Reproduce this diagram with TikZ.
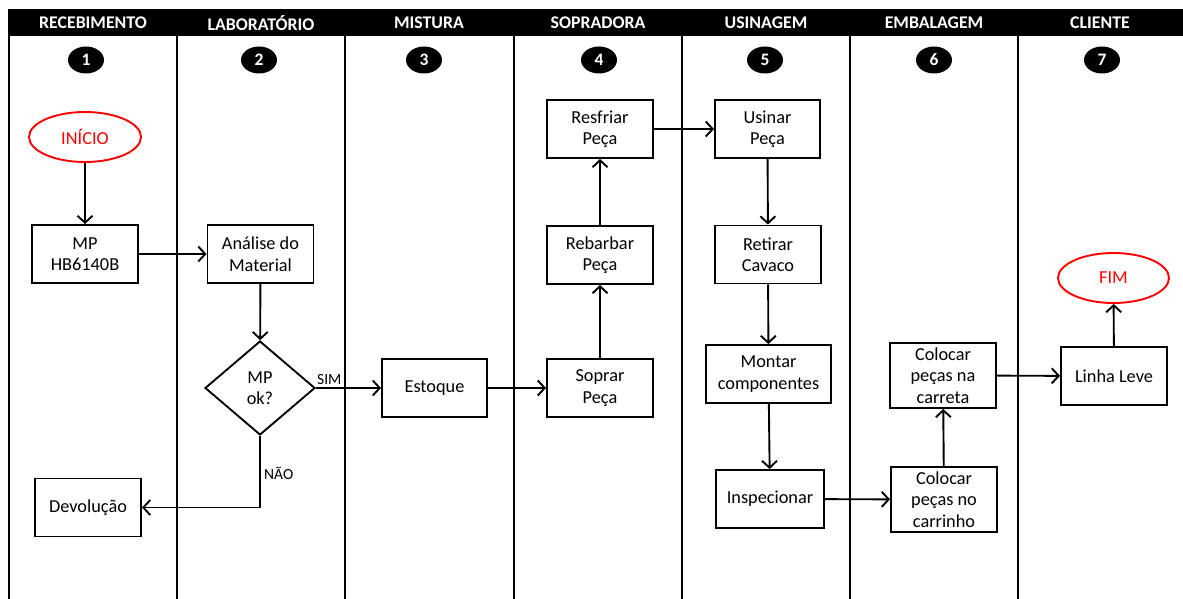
\documentclass[tikz,border=0pt]{standalone}
\usepackage{fontspec}
\setmainfont{Carlito}
\usetikzlibrary{shapes.geometric,arrows.meta}
\begin{document}
\begin{tikzpicture}[x=1pt,y=-1pt,
  box/.style={draw, line width=1.9pt, minimum width=106pt, minimum height=58pt,
    inner sep=0pt, align=center, font=\fontsize{18.3}{21.5}\selectfont},
  term/.style={ellipse, draw=red, text=red, line width=1.9pt, minimum width=112pt,
    minimum height=50pt, inner sep=0pt, font=\fontsize{18.3}{21.5}\selectfont},
  num/.style={ellipse, fill=black, text=white, minimum width=36pt, minimum height=27pt,
    inner sep=0pt, font=\fontsize{17.5}{18}\selectfont\bfseries},
  lanehead/.style={text=white, font=\fontsize{17.8}{18}\selectfont\bfseries},
  lane/.style={line width=1.9pt},
  flow/.style={-{Straight Barb[length=7pt,width=15pt,line width=1.9pt]}, line width=1.9pt},
  tag/.style={font=\fontsize{15.5}{16}\selectfont, inner sep=0pt}]
\useasboundingbox (0,0) rectangle (1183,599);

% header band and lane separators
\fill[black] (8,9) rectangle (1183,36);
\foreach \x in {9,177,345,514,682,850,1018}
  \draw[lane] (\x,35) -- (\x,599);

% lane titles
\node[lanehead] (h1) at (93,23)  {RECEBIMENTO};
\node[lanehead] (h2) at (261,23) {LABORATÓRIO};
\node[lanehead] (h3) at (429,23) {MISTURA};
\node[lanehead] (h4) at (598,23) {SOPRADORA};
\node[lanehead] (h5) at (766,23) {USINAGEM};
\node[lanehead] (h6) at (934,23) {EMBALAGEM};
\node[lanehead] (h7) at (1100,23) {CLIENTE};

% lane numbers
\node[num] (n1) at (86,60)   {1};
\node[num] (n2) at (259,60)  {2};
\node[num] (n3) at (424,60)  {3};
\node[num] (n4) at (599,60)  {4};
\node[num] (n5) at (765,60)  {5};
\node[num] (n6) at (934,60)  {6};
\node[num] (n7) at (1102,60) {7};

% process steps
\node[term] (inicio) at (85,137) {INÍCIO};
\node[box] (mp) at (85,254) {MP\\HB6140B};
\node[box] (analise) at (260.5,254) {Análise do\\Material};
\node[diamond, draw, line width=1.9pt, minimum width=110pt, minimum height=94pt,
  inner sep=0pt, align=center, font=\fontsize{18.3}{21.5}\selectfont] (ok) at (260,388) {MP\\ok?};
\node[box] (devol) at (88,507.5) {Devolução};
\node[box, minimum width=105pt] (estoque) at (434.5,388) {Estoque};
\node[box] (soprar) at (600,388) {Soprar\\Peça};
\node[box] (rebarbar) at (600,255) {Rebarbar\\Peça};
\node[box] (resfriar) at (600,129) {Resfriar\\Peça};
\node[box, minimum width=105pt] (usinar) at (767.5,129) {Usinar\\Peça};
\node[box] (retirar) at (768,254.5) {Retirar\\Cavaco};
\node[box, minimum width=125pt] (montar) at (768.5,374) {Montar\\componentes};
\node[box, minimum width=108pt] (inspec) at (770,499) {Inspecionar};
\node[box, minimum height=65pt] (carrinho) at (944,499.5) {Colocar\\peças no\\carrinho};
\node[box, minimum height=65pt] (carreta) at (943,375.5) {Colocar\\peças na\\carreta};
\node[box] (linha) at (1114,376) {Linha Leve};
\node[term, minimum width=111pt] (fim) at (1113.5,278) {FIM};

% connectors
\draw[flow] (inicio) -- (mp);
\draw[flow] (mp) -- (analise);
\draw[flow] (analise) -- (ok);
\draw[flow] (ok.east) -- (estoque.west);
\coordinate (nao) at (260,507.5);
\draw[flow] (ok.south) -- (nao) -- (devol.east);
\draw[flow] (estoque) -- (soprar);
\draw[flow] (soprar) -- (rebarbar);
\draw[flow] (rebarbar) -- (resfriar);
\draw[flow] (resfriar) -- (usinar);
\draw[flow] (usinar) -- (retirar);
\draw[flow] (retirar) -- (montar);
\draw[flow] (montar) -- (inspec);
\draw[flow] (inspec) -- (carrinho);
\draw[flow] (carrinho) -- (carreta);
\draw[flow] (carreta) -- (linha);
\draw[flow] (linha) -- (fim);

% decision labels
\node[tag, anchor=south west] (sim) at (317,385) {SIM};
\node[tag, anchor=west] (naolbl) at (264,473) {NÃO};
\end{tikzpicture}
\end{document}
